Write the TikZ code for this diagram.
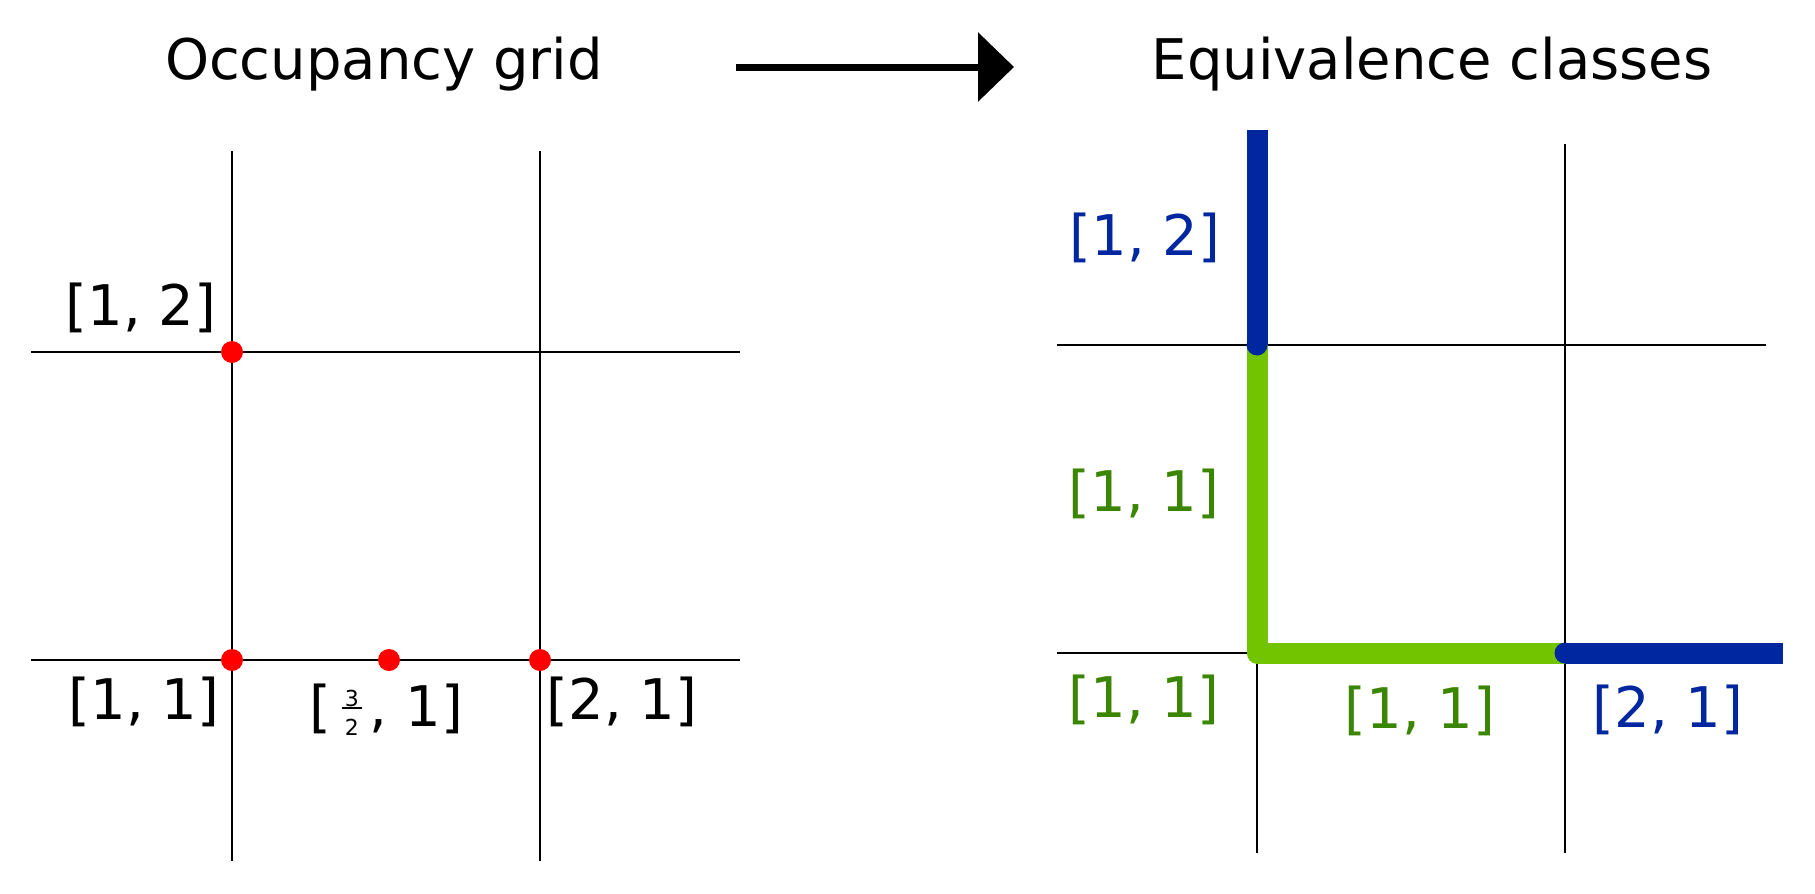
\documentclass[tikz,border=0pt]{standalone}
\usepackage{fontspec}
\setmainfont{DejaVu Sans}
\usetikzlibrary{arrows.meta}
\definecolor{eqblue}{RGB}{0,38,160}
\definecolor{eqgreen}{RGB}{115,196,0}
\definecolor{txtgreen}{RGB}{58,134,0}
\newcommand{\stfrac}[2]{\makebox[20pt]{%
  \rlap{\raisebox{20pt}{\makebox[20pt]{\fontsize{22}{22}\selectfont #1}}}%
  \rlap{\raisebox{17pt}{\rule{20pt}{2pt}}}%
  \raisebox{-9pt}{\makebox[20pt]{\fontsize{22}{22}\selectfont #2}}}}
\begin{document}
\begin{tikzpicture}[x=1pt,y=-1pt,
  gridline/.style={line width=2.2pt, black},
  thickgreen/.style={line width=21pt, eqgreen, line join=round},
  thickblue/.style={line width=21pt, eqblue},
  lbl/.style={font=\fontsize{56}{60}\selectfont, inner sep=0pt, anchor=base},
  reddot/.style={circle, fill=red, inner sep=0pt, minimum size=22pt},
  bluedot/.style={circle, fill=eqblue, inner sep=0pt, minimum size=21pt}]
\useasboundingbox (0,0) rectangle (1815,894);

% ---------- left grid ----------
\coordinate (LV1t) at (232,151); \coordinate (LV1b) at (232,861);
\coordinate (LV2t) at (540,151); \coordinate (LV2b) at (540,861);
\coordinate (LH1l) at (31,352);  \coordinate (LH1r) at (740,352);
\coordinate (LH2l) at (31,660);  \coordinate (LH2r) at (740,660);
\draw[gridline] (LV1t) -- (LV1b);
\draw[gridline] (LV2t) -- (LV2b);
\draw[gridline] (LH1l) -- (LH1r);
\draw[gridline] (LH2l) -- (LH2r);
\node[reddot] (p12) at (232,352) {};
\node[reddot] (p11) at (232,660) {};
\node[reddot] (pm)  at (389,660) {};
\node[reddot] (p21) at (540,660) {};

\node[lbl] (l12) at (141,325) {[1, 2]};
\node[lbl] (l11) at (144,719) {[1, 1]};
\node[lbl] (lm)  at (386,726) {[\hspace{11pt}\stfrac{3}{2}\hspace{8pt}, 1]};
\node[lbl] (l21) at (622,719) {[2, 1]};

% ---------- titles and arrow ----------
\node[lbl] (t1) at (384,79) {Occupancy grid};
\node[lbl] (t2) at (1432,79) {Equivalence classes};
\coordinate (arS) at (736,67);
\coordinate (arE) at (1014,67);
\draw[line width=7pt, -{Triangle[length=36pt,width=68pt]}] (arS) -- (arE);

% ---------- right grid ----------
\coordinate (RV1t) at (1257,144); \coordinate (RV1b) at (1257,853);
\coordinate (RV2t) at (1565,144); \coordinate (RV2b) at (1565,853);
\coordinate (RH1l) at (1057,345); \coordinate (RH1r) at (1766,345);
\coordinate (RH2l) at (1057,653); \coordinate (RH2r) at (1766,653);
\draw[gridline] (RV1t) -- (RV1b);
\draw[gridline] (RV2t) -- (RV2b);
\draw[gridline] (RH1l) -- (RH1r);
\draw[gridline] (RH2l) -- (RH2r);

\coordinate (B12) at (1257,345);
\coordinate (B11) at (1257,653);
\coordinate (B21) at (1565,653);
\coordinate (Btop) at (1257,130);
\coordinate (Bright) at (1783,653);
\draw[thickgreen] (B12) -- (B11) -- (B21);
\draw[thickblue] (Btop) -- (B12);
\draw[thickblue] (B21) -- (Bright);
\node[bluedot] (d12) at (B12) {};
\node[bluedot] (d21) at (B21) {};

\node[lbl, text=eqblue]   (r12)  at (1145,255) {[1, 2]};
\node[lbl, text=txtgreen] (r11v) at (1144,511) {[1, 1]};
\node[lbl, text=txtgreen] (r11c) at (1144,717) {[1, 1]};
\node[lbl, text=txtgreen] (r11h) at (1420,728) {[1, 1]};
\node[lbl, text=eqblue]   (r21)  at (1668,727) {[2, 1]};
\end{tikzpicture}
\end{document}
